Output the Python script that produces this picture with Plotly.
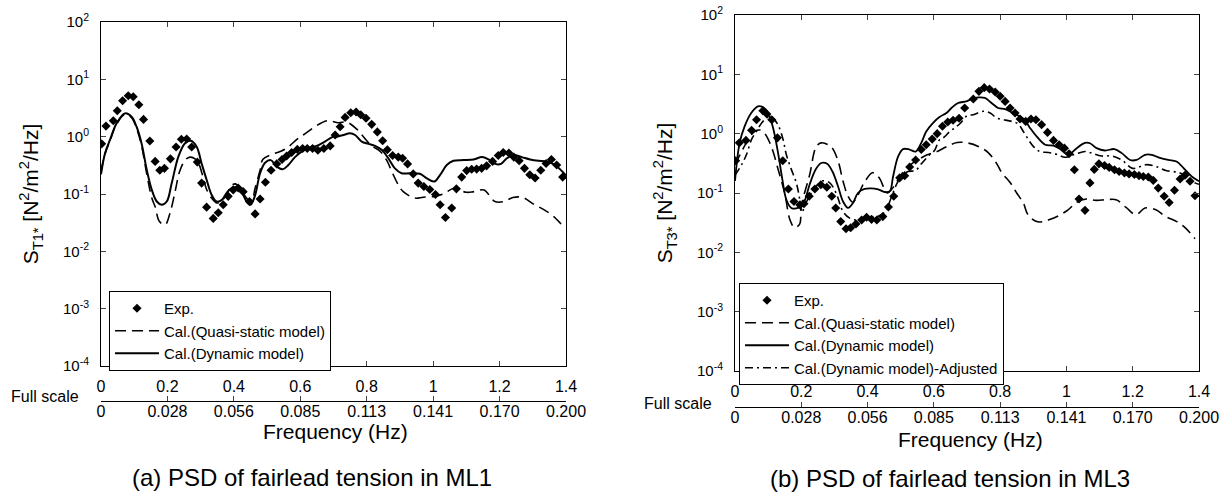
import plotly.graph_objects as go

# ---- (a) ML1 ----
exp1_f = [0.002, 0.015, 0.037, 0.049, 0.065, 0.082, 0.097, 0.114, 0.128, 0.147, 0.163, 0.177, 0.191, 0.209,
          0.226, 0.242, 0.258, 0.273, 0.290, 0.303, 0.318, 0.338, 0.353, 0.368, 0.383, 0.398, 0.413, 0.428,
          0.447, 0.464, 0.479, 0.495, 0.512, 0.529, 0.545, 0.559, 0.574, 0.591, 0.607, 0.621, 0.637, 0.653,
          0.671, 0.690, 0.705, 0.720, 0.735, 0.752, 0.768, 0.782, 0.798, 0.815, 0.832, 0.848, 0.862, 0.878,
          0.895, 0.908, 0.923, 0.940, 0.955, 0.972, 0.990, 1.007, 1.021, 1.037, 1.056, 1.070, 1.086, 1.101,
          1.116, 1.131, 1.146, 1.161, 1.179, 1.196, 1.211, 1.228, 1.243, 1.259, 1.275, 1.291, 1.307, 1.324,
          1.340, 1.356, 1.372, 1.390]
exp1_v = [0.75, 1.53, 1.90, 2.83, 4.23, 5.16, 4.97, 3.6, 2.0, 0.84, 0.37, 0.26, 0.28, 0.41,
          0.66, 0.90, 0.91, 0.66, 0.36, 0.155, 0.059, 0.0375, 0.047, 0.065, 0.091, 0.118, 0.127, 0.11,
          0.074, 0.045, 0.082, 0.16, 0.26, 0.335, 0.40, 0.46, 0.53, 0.60, 0.62, 0.62, 0.62, 0.58,
          0.62, 0.69, 1.07, 1.49, 2.17, 2.61, 2.69, 2.41, 2.09, 1.64, 1.21, 0.85, 0.59, 0.47,
          0.44, 0.42, 0.335, 0.224, 0.155, 0.135, 0.12, 0.098, 0.065, 0.039, 0.057, 0.123, 0.197, 0.256,
          0.27, 0.272, 0.28, 0.31, 0.37, 0.47, 0.53, 0.52, 0.44, 0.38, 0.28, 0.216, 0.19, 0.26,
          0.34, 0.40, 0.32, 0.197]

dyn1_f = [0.0, 0.012, 0.027, 0.047, 0.072, 0.092, 0.107, 0.122, 0.138, 0.153, 0.168, 0.183, 0.198, 0.213,
          0.233, 0.253, 0.270, 0.288, 0.303, 0.318, 0.333, 0.348, 0.363, 0.378, 0.393, 0.408, 0.423, 0.438,
          0.450, 0.463, 0.479, 0.494, 0.511, 0.529, 0.547, 0.564, 0.584, 0.604, 0.624, 0.649, 0.674, 0.699,
          0.710, 0.730, 0.750, 0.765, 0.785, 0.805, 0.825, 0.845, 0.865, 0.885, 0.905, 0.930, 0.960, 0.980,
          1.003, 1.021, 1.041, 1.061, 1.091, 1.122, 1.147, 1.167, 1.187, 1.204, 1.222, 1.242, 1.267, 1.292,
          1.317, 1.342, 1.367, 1.400]
dyn1_v = [0.22, 0.51, 0.88, 1.71, 2.55, 2.23, 1.49, 0.77, 0.26, 0.118, 0.074, 0.065, 0.074, 0.155,
          0.45, 0.77, 0.85, 0.67, 0.34, 0.177, 0.097, 0.074, 0.078, 0.104, 0.127, 0.13, 0.11, 0.074,
          0.065, 0.091, 0.23, 0.35, 0.39, 0.30, 0.27, 0.32, 0.44, 0.55, 0.63, 0.69, 0.82, 1.0,
          1.0, 1.07, 1.15, 1.07, 0.82, 0.75, 0.69, 0.59, 0.42, 0.28, 0.23, 0.23, 0.225, 0.19,
          0.165, 0.216, 0.32, 0.38, 0.39, 0.40, 0.44, 0.40, 0.335, 0.335, 0.42, 0.48, 0.44, 0.40,
          0.38, 0.37, 0.32, 0.21]

qs1_f = [0.0, 0.012, 0.027, 0.047, 0.072, 0.092, 0.107, 0.122, 0.138, 0.153, 0.163, 0.176, 0.193, 0.208,
         0.223, 0.238, 0.255, 0.268, 0.280, 0.293, 0.305, 0.318, 0.333, 0.348, 0.363, 0.378, 0.393, 0.405,
         0.420, 0.435, 0.447, 0.455, 0.463, 0.479, 0.487, 0.511, 0.539, 0.559, 0.594, 0.609, 0.644, 0.680,
         0.715, 0.740, 0.770, 0.790, 0.815, 0.840, 0.862, 0.875, 0.895, 0.910, 0.945, 0.970, 1.000, 1.030,
         1.063, 1.100, 1.123, 1.153, 1.186, 1.213, 1.240, 1.270, 1.305, 1.332, 1.362, 1.390]
qs1_v = [0.25, 0.5, 0.85, 1.65, 2.45, 2.15, 1.4, 0.7, 0.22, 0.085, 0.06, 0.033, 0.029, 0.047,
         0.11, 0.26, 0.40, 0.44, 0.42, 0.35, 0.22, 0.12, 0.085, 0.07, 0.075, 0.10, 0.14, 0.15,
         0.12, 0.09, 0.075, 0.075, 0.12, 0.26, 0.40, 0.48, 0.55, 0.63, 0.94, 1.07, 1.49, 1.9,
         1.75, 1.8, 1.35, 1.0, 0.69, 0.56, 0.37, 0.25, 0.145, 0.11, 0.085, 0.088, 0.09, 0.10,
         0.126, 0.107, 0.11, 0.117, 0.074, 0.074, 0.087, 0.087, 0.065, 0.054, 0.041, 0.028]

# ---- (b) ML3 ----
exp3_f = [0.002, 0.013, 0.033, 0.050, 0.065, 0.084, 0.096, 0.111, 0.128, 0.144, 0.161, 0.178, 0.196, 0.208,
          0.224, 0.241, 0.259, 0.277, 0.292, 0.304, 0.319, 0.335, 0.349, 0.365, 0.382, 0.397, 0.412, 0.428,
          0.446, 0.463, 0.479, 0.497, 0.512, 0.527, 0.545, 0.562, 0.577, 0.595, 0.610, 0.626, 0.642, 0.658,
          0.676, 0.693, 0.719, 0.736, 0.752, 0.768, 0.785, 0.800, 0.815, 0.830, 0.845, 0.860, 0.877, 0.893,
          0.908, 0.925, 0.943, 0.961, 0.978, 0.994, 1.008, 1.024, 1.038, 1.056, 1.071, 1.084, 1.098, 1.115,
          1.129, 1.145, 1.159, 1.175, 1.189, 1.205, 1.219, 1.232, 1.247, 1.262, 1.277, 1.295, 1.310, 1.326,
          1.343, 1.358, 1.373, 1.388]
exp3_v = [0.35, 0.70, 0.77, 1.14, 1.72, 2.44, 2.15, 1.72, 0.85, 0.35, 0.117, 0.072, 0.063, 0.066,
          0.088, 0.117, 0.138, 0.125, 0.088, 0.056, 0.033, 0.025, 0.026, 0.030, 0.035, 0.039, 0.036, 0.035,
          0.040, 0.058, 0.088, 0.18, 0.196, 0.275, 0.36, 0.54, 0.65, 0.81, 1.0, 1.33, 1.57, 1.68,
          1.82, 2.71, 3.85, 5.17, 5.97, 5.66, 5.05, 4.26, 3.5, 2.71, 2.23, 1.77, 1.61, 1.77,
          1.72, 1.42, 1.05, 0.77, 0.65, 0.57, 0.46, 0.247, 0.079, 0.051, 0.148, 0.25, 0.31, 0.29,
          0.27, 0.247, 0.23, 0.217, 0.21, 0.205, 0.196, 0.19, 0.186, 0.163, 0.121, 0.088, 0.069, 0.111,
          0.172, 0.2, 0.158, 0.09]

dyn3_f = [0.0, 0.014, 0.029, 0.049, 0.069, 0.084, 0.100, 0.115, 0.130, 0.143, 0.155, 0.170, 0.190, 0.207,
          0.225, 0.243, 0.260, 0.278, 0.294, 0.311, 0.326, 0.341, 0.356, 0.371, 0.391, 0.411, 0.432, 0.452,
          0.467, 0.477, 0.492, 0.507, 0.527, 0.545, 0.562, 0.577, 0.597, 0.617, 0.638, 0.653, 0.673, 0.698,
          0.714, 0.734, 0.754, 0.774, 0.794, 0.815, 0.835, 0.855, 0.873, 0.890, 0.910, 0.936, 0.961, 0.981,
          0.996, 1.011, 1.031, 1.056, 1.071, 1.091, 1.116, 1.145, 1.167, 1.192, 1.212, 1.237, 1.257, 1.282,
          1.307, 1.332, 1.358, 1.378, 1.400]
dyn3_v = [0.16, 0.70, 1.33, 2.23, 2.89, 2.8, 2.23, 1.25, 0.47, 0.168, 0.077, 0.056, 0.056, 0.068,
          0.138, 0.247, 0.32, 0.31, 0.23, 0.129, 0.072, 0.056, 0.068, 0.1, 0.117, 0.12, 0.115, 0.104,
          0.107, 0.19, 0.41, 0.55, 0.54, 0.50, 0.70, 1.09, 1.51, 1.91, 2.23, 2.71, 3.29, 3.5,
          3.85, 4.09, 4.0, 3.29, 2.71, 2.6, 2.29, 2.01, 1.72, 1.25, 0.90, 0.65, 0.63, 0.55,
          0.47, 0.46, 0.57, 0.70, 0.69, 0.57, 0.52, 0.55, 0.47, 0.36, 0.36, 0.44, 0.44, 0.39,
          0.36, 0.34, 0.247, 0.19, 0.158]

qs3_f = [0.0, 0.02, 0.04, 0.06, 0.075, 0.09, 0.11, 0.13, 0.15, 0.166, 0.18, 0.195, 0.20, 0.225,
         0.245, 0.26, 0.29, 0.31, 0.326, 0.341, 0.355, 0.37, 0.39, 0.415, 0.435, 0.45, 0.46, 0.48,
         0.50, 0.53, 0.58, 0.61, 0.64, 0.67, 0.70, 0.734, 0.764, 0.79, 0.805, 0.83, 0.85, 0.87,
         0.884, 0.91, 0.93, 0.945, 0.975, 1.005, 1.03, 1.06, 1.09, 1.12, 1.15, 1.18, 1.21, 1.237,
         1.27, 1.30, 1.333, 1.358, 1.388]
qs3_v = [0.3, 0.5, 0.8, 1.1, 1.15, 1.0, 0.6, 0.25, 0.1, 0.035, 0.026, 0.03, 0.06, 0.2,
         0.6, 0.7, 0.6, 0.36, 0.158, 0.088, 0.07, 0.09, 0.15, 0.22, 0.18, 0.12, 0.1, 0.13,
         0.2, 0.3, 0.44, 0.5, 0.61, 0.71, 0.70, 0.61, 0.48, 0.31, 0.22, 0.15, 0.1, 0.068,
         0.043, 0.033, 0.033, 0.035, 0.041, 0.052, 0.069, 0.079, 0.075, 0.077, 0.077, 0.057, 0.043, 0.056,
         0.052, 0.04, 0.033, 0.026, 0.017]

adj3_f = [0.0, 0.02, 0.035, 0.05, 0.065, 0.08, 0.10, 0.115, 0.13, 0.145, 0.155, 0.17, 0.185, 0.195,
          0.202, 0.21, 0.225, 0.245, 0.265, 0.285, 0.305, 0.325, 0.345, 0.37, 0.40, 0.43, 0.455, 0.47,
          0.49, 0.507, 0.522, 0.545, 0.56, 0.587, 0.602, 0.617, 0.632, 0.648, 0.663, 0.68, 0.70, 0.719,
          0.749, 0.77, 0.79, 0.835, 0.855, 0.87, 0.90, 0.92, 0.945, 0.97, 0.996, 1.026, 1.056, 1.076,
          1.106, 1.137, 1.167, 1.20, 1.24, 1.27, 1.30, 1.34, 1.363, 1.388, 1.40]
adj3_v = [0.2, 0.3, 0.45, 0.8, 1.1, 1.5, 1.9, 1.8, 1.4, 0.8, 0.44, 0.25, 0.148, 0.08,
          0.047, 0.06, 0.09, 0.13, 0.16, 0.15, 0.1, 0.05, 0.038, 0.035, 0.04, 0.04, 0.05, 0.08,
          0.15, 0.2, 0.23, 0.24, 0.3, 0.44, 0.52, 0.79, 0.88, 1.09, 1.25, 1.5, 2.0, 2.09,
          2.38, 2.23, 1.84, 1.61, 1.45, 1.09, 0.61, 0.5, 0.48, 0.45, 0.40, 0.45, 0.5, 0.47,
          0.42, 0.42, 0.36, 0.26, 0.30, 0.28, 0.24, 0.22, 0.19, 0.148, 0.14]

model_ticks = [0, 0.2, 0.4, 0.6, 0.8, 1.0, 1.2, 1.4]
model_labels = ["0", "0.2", "0.4", "0.6", "0.8", "1", "1.2", "1.4"]
full_labels = ["0", "0.028", "0.056", "0.085", "0.113", "0.141", "0.170", "0.200"]
decades = [1e-4, 1e-3, 1e-2, 1e-1, 1, 10, 100]
decade_labels = ["10<sup>-4</sup>", "10<sup>-3</sup>", "10<sup>-2</sup>", "10<sup>-1</sup>",
                 "10<sup>0</sup>", "10<sup>1</sup>", "10<sup>2</sup>"]

FONT = "Liberation Sans, Arial, sans-serif"
W, H = 1230, 494


def px_x(p):
    return p / W


def px_y(p):
    return 1 - p / H


fig = go.Figure()

dash_long = "11px,6px"
dash_dot = "8px,4px,2px,4px"

# left panel
fig.add_trace(go.Scatter(x=exp1_f, y=exp1_v, mode="markers", name="Exp.",
                         marker=dict(symbol="diamond", size=7, color="black"),
                         xaxis="x", yaxis="y", legend="legend"))
fig.add_trace(go.Scatter(x=qs1_f, y=qs1_v, mode="lines", name="Cal.(Quasi-static model)",
                         line=dict(color="black", width=1.6, dash=dash_long, shape="spline"),
                         xaxis="x", yaxis="y", legend="legend"))
fig.add_trace(go.Scatter(x=dyn1_f, y=dyn1_v, mode="lines", name="Cal.(Dynamic model)",
                         line=dict(color="black", width=2, shape="spline"),
                         xaxis="x", yaxis="y", legend="legend"))

# right panel
fig.add_trace(go.Scatter(x=exp3_f, y=exp3_v, mode="markers", name="Exp.",
                         marker=dict(symbol="diamond", size=7, color="black"),
                         xaxis="x2", yaxis="y2", legend="legend2"))
fig.add_trace(go.Scatter(x=qs3_f, y=qs3_v, mode="lines", name="Cal.(Quasi-static model)",
                         line=dict(color="black", width=1.6, dash=dash_long, shape="spline"),
                         xaxis="x2", yaxis="y2", legend="legend2"))
fig.add_trace(go.Scatter(x=dyn3_f, y=dyn3_v, mode="lines", name="Cal.(Dynamic model)",
                         line=dict(color="black", width=1.8, shape="spline"),
                         xaxis="x2", yaxis="y2", legend="legend2"))
fig.add_trace(go.Scatter(x=adj3_f, y=adj3_v, mode="lines", name="Cal.(Dynamic model)-Adjusted",
                         line=dict(color="black", width=1.6, dash=dash_dot, shape="spline"),
                         xaxis="x2", yaxis="y2", legend="legend2"))

# empty traces so the full-scale axes get drawn
fig.add_trace(go.Scatter(x=[], y=[], xaxis="x3", yaxis="y", showlegend=False))
fig.add_trace(go.Scatter(x=[], y=[], xaxis="x4", yaxis="y2", showlegend=False))

main_x = dict(range=[0, 1.4], tickvals=model_ticks, ticktext=model_labels, ticks="inside", ticklen=5,
              mirror="ticks", showline=True, linecolor="black", linewidth=1, showgrid=False,
              zeroline=False, tickfont=dict(size=16, color="black"), ticklabelstandoff=6,
              automargin=False)
full_x = dict(range=[0, 1.4], tickvals=model_ticks, ticktext=full_labels, ticks="inside", ticklen=5,
              showline=True, linecolor="black", linewidth=1, showgrid=False, zeroline=False,
              anchor="free", side="bottom", tickfont=dict(size=16, color="black"), automargin=False,
              ticklabelstandoff=-4)
main_y = dict(type="log", range=[-4, 2], tickvals=decades, ticktext=decade_labels, ticks="inside",
              ticklen=5, mirror="ticks", showline=True, linecolor="black", linewidth=1, showgrid=False,
              zeroline=False, tickfont=dict(size=15, color="black"), ticklabelstandoff=8,
              automargin=False)

legend_style = dict(bgcolor="white", bordercolor="black", borderwidth=1, font=dict(size=15, color="black"),
                    xanchor="left", yanchor="top", itemwidth=44, tracegroupgap=0)


def label(text, x, y, size):
    return dict(text=text, x=px_x(x), y=px_y(y), xref="paper", yref="paper", xanchor="center",
                yanchor="middle", showarrow=False, font=dict(size=size, color="black"))


fig.update_layout(
    width=W, height=H,
    margin=dict(l=0, r=0, t=0, b=0, autoexpand=False),
    paper_bgcolor="white", plot_bgcolor="white",
    font=dict(family=FONT, color="black"),
    xaxis=dict(main_x, domain=[px_x(101), px_x(566)], anchor="y"),
    yaxis=dict(main_y, domain=[px_y(366), px_y(22)], anchor="x",
               title=dict(text="S<sub>T1*</sub> [N<sup>2</sup>/m<sup>2</sup>/Hz]",
                          font=dict(size=21, color="black"), standoff=18)),
    xaxis3=dict(full_x, overlaying="x", position=px_y(401)),
    xaxis2=dict(main_x, domain=[px_x(735), px_x(1199)], anchor="y2"),
    yaxis2=dict(main_y, domain=[px_y(371), px_y(15)], anchor="x2",
                title=dict(text="S<sub>T3*</sub> [N<sup>2</sup>/m<sup>2</sup>/Hz]",
                           font=dict(size=21, color="black"), standoff=18)),
    xaxis4=dict(full_x, overlaying="x2", position=px_y(407)),
    legend=dict(legend_style, x=px_x(109), y=px_y(291)),
    legend2=dict(legend_style, x=px_x(739), y=px_y(283)),
    annotations=[
        label("Full scale", 45, 396, 16),
        label("Full scale", 678, 403, 16),
        label("Frequency (Hz)", 335, 431, 21),
        label("Frequency (Hz)", 970, 439, 21),
        label("(a) PSD of fairlead tension in ML1", 312, 477, 24),
        label("(b) PSD of fairlead tension in ML3", 950, 478, 24),
    ],
)

fig.write_html("out.html", config={"displayModeBar": False},
               post_script="document.body.style.margin = '0px';")
